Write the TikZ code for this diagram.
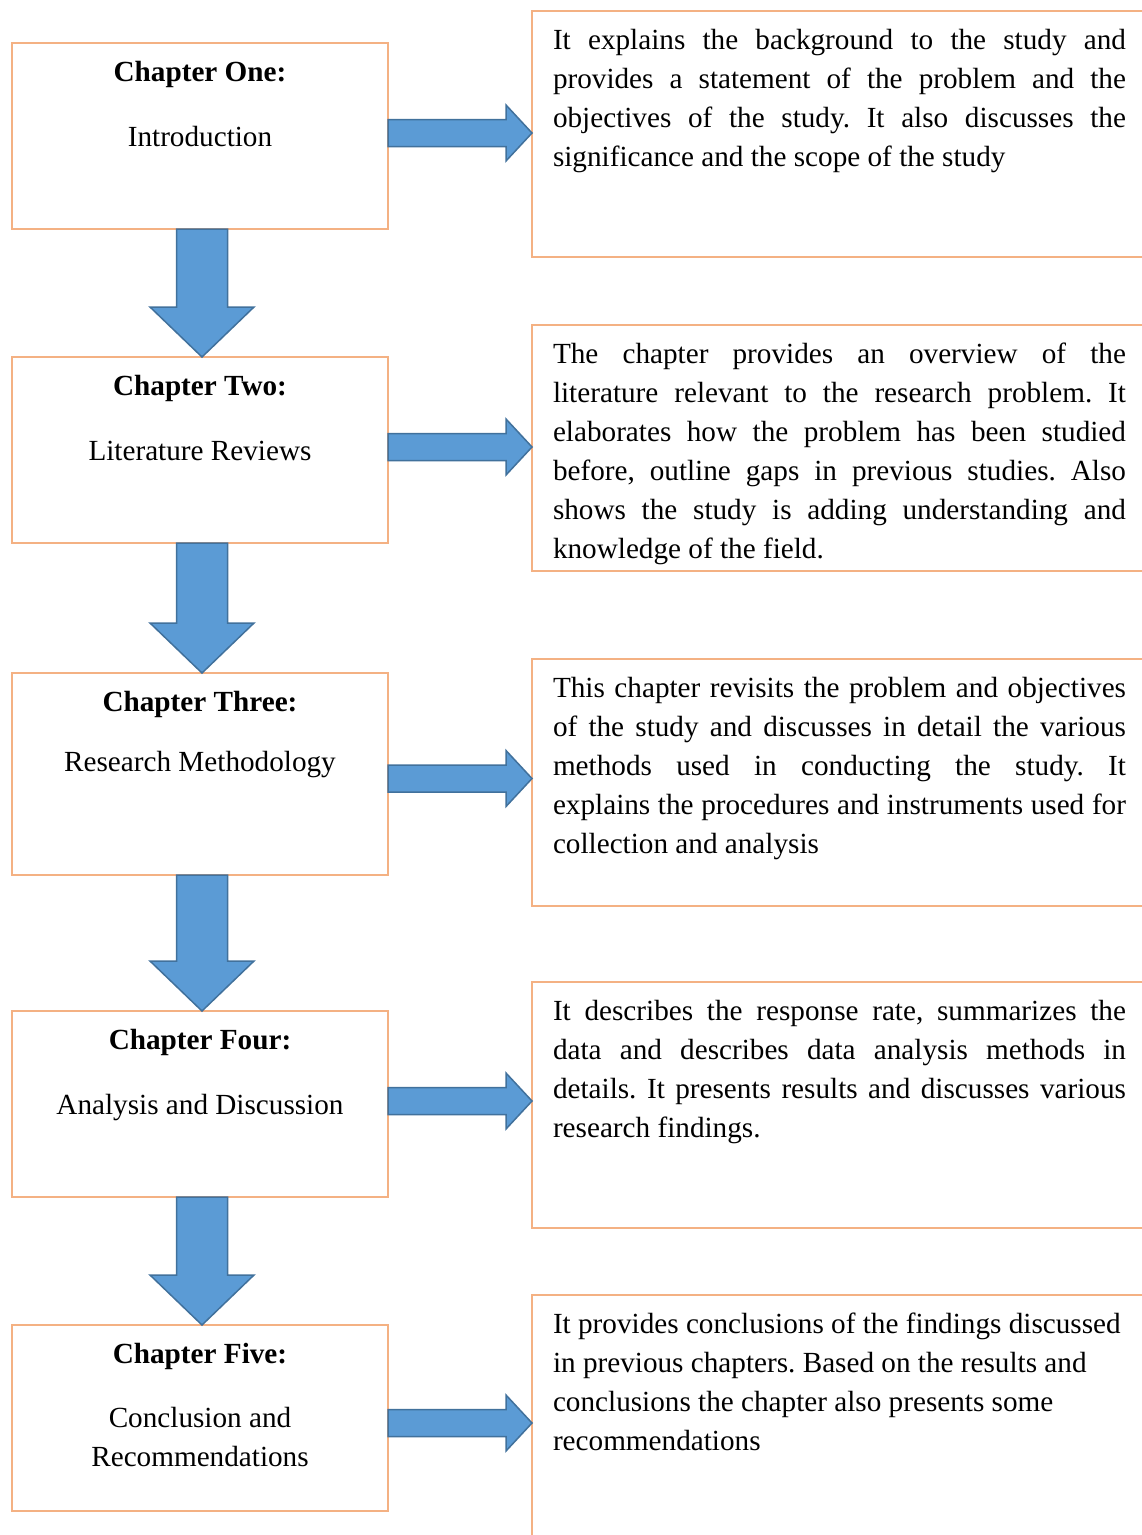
\documentclass[tikz,border=0pt]{standalone}
\usepackage{fontspec}
\setmainfont{Liberation Serif}
\usetikzlibrary{calc}
\definecolor{boxorange}{RGB}{244,177,131}
\definecolor{arrfill}{RGB}{91,155,213}
\definecolor{arrline}{RGB}{65,113,156}
\frenchspacing
\newcommand\jl[1]{\hbox to 573pt{#1}}
\newcommand\nl[1]{\hbox{#1}}
\newcommand\para[1]{\vtop{\frenchspacing\baselineskip=39pt\lineskiplimit=-10pt #1}}
\newcommand\cl[1]{\hbox to 376pt{\hss #1\hss}}
\newcommand\rarrow[3]{\draw[barrow] let \p1=($(#1.east)+(0,#3)$), \p2=(#2.west) in
 (\x1,{\y1+13.5pt}) -- ({\x2-26pt},{\y1+13.5pt}) -- ({\x2-26pt},{\y1+28pt}) -- (\x2,\y1)
 -- ({\x2-26pt},{\y1-28pt}) -- ({\x2-26pt},{\y1-13.5pt}) -- (\x1,{\y1-13.5pt}) -- cycle;}
\newcommand\darrow[2]{\draw[barrow] let \p1=($(#1.south)+(2,0)$), \p2=($(#2.north)+(2,0)$) in
 ({\x1-25.5pt},\y1) -- ({\x1+25.5pt},\y1) -- ({\x1+25.5pt},{\y2+50pt}) -- ({\x1+52pt},{\y2+50pt})
 -- (\x1,\y2) -- ({\x1-52pt},{\y2+50pt}) -- ({\x1-25.5pt},{\y2+50pt}) -- cycle;}
\begin{document}
\begin{tikzpicture}[x=1pt,y=-1pt,
  every node/.style={inner sep=0pt,outer sep=0pt},
  lbox/.style={rectangle,draw=boxorange,line width=1.8pt,minimum width=376pt},
  rbox/.style={rectangle,draw=boxorange,line width=1.8pt,minimum width=628pt},
  ttl/.style={font=\fontsize{29.2}{39}\selectfont\bfseries,anchor=base},
  sub/.style={font=\fontsize{29.2}{39}\selectfont,anchor=base},
  desc/.style={font=\fontsize{29.2}{39}\selectfont\frenchspacing,anchor=base west},
  barrow/.style={fill=arrfill,draw=arrline,line width=1.5pt,line join=miter}]
\useasboundingbox (0,0) rectangle (1142,1535);
\fill[white] (0,0) rectangle (1142,1535);
\clip (0,0) rectangle (1142,1535);
% left boxes
\node[lbox,minimum height=186pt] (c1) at (200,136) {};
\node[lbox,minimum height=186pt] (c2) at (200,450) {};
\node[lbox,minimum height=202pt] (c3) at (200,774) {};
\node[lbox,minimum height=186pt] (c4) at (200,1104) {};
\node[lbox,minimum height=186pt] (c5) at (200,1418) {};
% right boxes
\node[rbox,minimum height=246pt] (d1) at (846,134) {};
\node[rbox,minimum height=246pt] (d2) at (846,448) {};
\node[rbox,minimum height=247pt] (d3) at (846,782.5) {};
\node[rbox,minimum height=246pt] (d4) at (846,1105) {};
\node[rbox,minimum height=246pt] (d5) at (846,1418) {};
% left texts
\node[ttl] (t1) at (200,81) {Chapter One:};
\node[sub] (s1) at (200,146) {Introduction};
\node[ttl] (t2) at (200,395) {Chapter Two:};
\node[sub] (s2) at (200,460) {Literature Reviews};
\node[ttl] (t3) at (200,711) {Chapter Three:};
\node[sub] (s3) at (200,771) {Research Methodology};
\node[ttl] (t4) at (200,1049) {Chapter Four:};
\node[sub] (s4) at (200,1114) {Analysis and Discussion};
\node[ttl] (t5) at (200,1363) {Chapter Five:};
\node[sub] (s5) at (200,1427) {\para{\cl{Conclusion and}\cl{Recommendations}}};
% right texts
\node[desc] (p1) at (553,49) {\para{%
\jl{It explains the background to the study and}%
\jl{provides a statement of the problem and the}%
\jl{objectives of the study. It also discusses the}%
\nl{significance and the scope of the study}}};
\node[desc] (p2) at (553,363) {\para{%
\jl{The chapter provides an overview of the}%
\jl{literature relevant to the research problem. It}%
\jl{elaborates how the problem has been studied}%
\jl{before, outline gaps in previous studies. Also}%
\jl{shows the study is adding understanding and}%
\nl{knowledge of the field.}}};
\node[desc] (p3) at (553,697) {\para{%
\jl{This chapter revisits the problem and objectives}%
\jl{of the study and discusses in detail the various}%
\jl{methods used in conducting the study. It}%
\jl{explains the procedures and instruments used for}%
\nl{collection and analysis}}};
\node[desc] (p4) at (553,1020) {\para{%
\jl{It describes the response rate, summarizes the}%
\jl{data and describes data analysis methods in}%
\jl{details. It presents results and discusses various}%
\nl{research findings.}}};
\node[desc] (p5) at (553,1333) {\para{%
\nl{It provides conclusions of the findings discussed}%
\nl{in previous chapters. Based on the results and}%
\nl{conclusions the chapter also presents some}%
\nl{recommendations}}};
% connectors
\darrow{c1}{c2}
\darrow{c2}{c3}
\darrow{c3}{c4}
\darrow{c4}{c5}
\rarrow{c1}{d1}{-3}
\rarrow{c2}{d2}{-3}
\rarrow{c3}{d3}{4.5}
\rarrow{c4}{d4}{-3}
\rarrow{c5}{d5}{5}
\end{tikzpicture}
\end{document}
